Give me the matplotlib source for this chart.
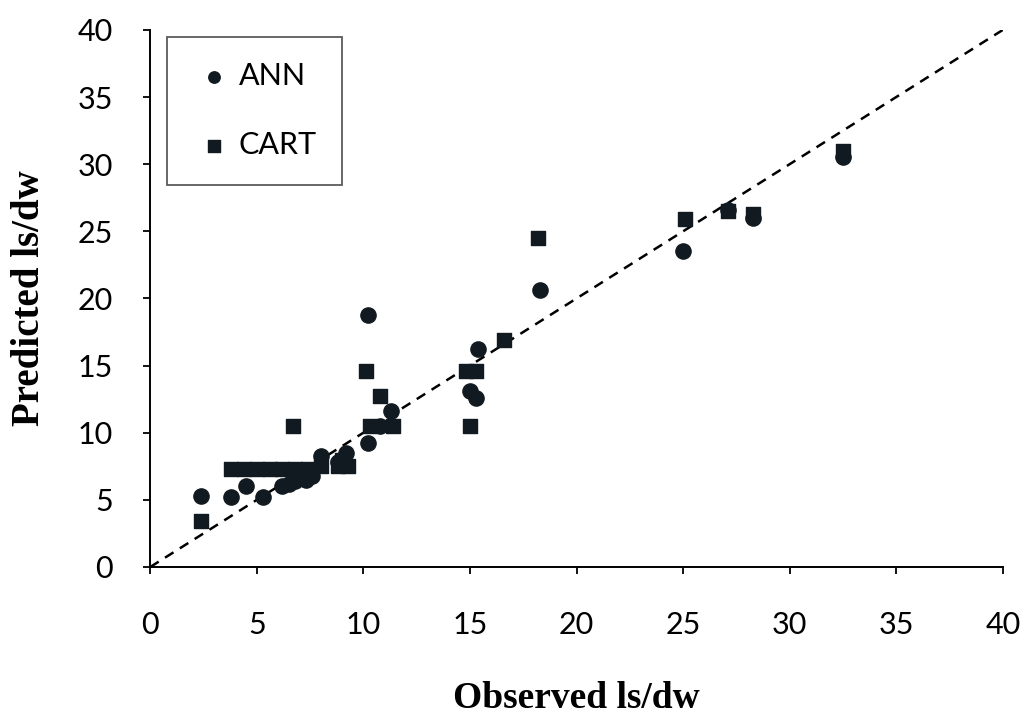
import numpy as np
import matplotlib.pyplot as plt

# ANN predictions (circles)
ann_obs = [2.4, 3.8, 4.5, 5.3, 6.2, 6.5, 6.8, 7.3, 7.6, 8.0, 8.8, 9.2,
           10.2, 10.2, 10.8, 11.3, 15.4, 15.0, 15.3, 18.3, 25.0, 27.1, 28.3, 32.5]
ann_pred = [5.3, 5.2, 6.0, 5.2, 6.0, 6.2, 6.4, 6.5, 6.8, 8.3, 7.8, 8.5,
            9.2, 18.8, 10.5, 11.6, 16.2, 13.1, 12.6, 20.6, 23.5, 26.6, 26.0, 30.5]

# CART predictions (squares)
cart_obs = [2.4, 3.8, 4.4, 5.0, 5.6, 6.2, 6.8, 7.4, 8.0, 6.7, 8.8, 9.3, 9.0,
            10.1, 10.8, 10.3, 11.4, 14.8, 15.3, 15.0, 16.6, 18.2,
            25.1, 27.1, 28.3, 32.5]
cart_pred = [3.4, 7.3, 7.3, 7.3, 7.3, 7.3, 7.3, 7.3, 7.5, 10.5, 7.5, 7.5, 8.0,
             14.6, 12.7, 10.5, 10.5, 14.6, 14.6, 10.5, 16.9, 24.5,
             25.9, 26.5, 26.3, 31.0]

ticks = [0, 5, 10, 15, 20, 25, 30, 35, 40]

fig = plt.figure(figsize=(10.36, 7.2), dpi=100)
ax = fig.add_axes([0.145, 0.2125, 0.823, 0.746])

ax.plot([0, 40], [0, 40], color='black', linestyle=(0, (4, 3)), linewidth=1.8, zorder=1)
ax.scatter(ann_obs, ann_pred, marker='o', s=120, color='#111a20', label='ANN', zorder=3)
ax.scatter(cart_obs, cart_pred, marker='s', s=115, color='#111a20', label='CART', zorder=2)

ax.set_xlim(0, 40)
ax.set_ylim(0, 40)
ax.set_xticks(ticks)
ax.set_yticks(ticks)
for sp in ['top', 'right']:
    ax.spines[sp].set_visible(False)
for sp in ['left', 'bottom']:
    ax.spines[sp].set_linewidth(1.4)
ax.tick_params(direction='out', length=5, width=1.3, labelsize=22)
ax.tick_params(axis='y', pad=22)
ax.tick_params(axis='x', pad=27)
for lab in ax.get_xticklabels() + ax.get_yticklabels():
    lab.set_family('Lato')

ax.set_xlabel('Observed ls/dw', family='Liberation Serif', fontweight='bold', fontsize=27)
ax.set_ylabel('Predicted ls/dw', family='Liberation Serif', fontweight='bold', fontsize=28)
ax.xaxis.set_label_coords(0.5, -0.212)
ax.yaxis.set_label_coords(-0.12, 0.5)

leg = ax.legend(loc='upper left', bbox_to_anchor=(0.02, 0.987), borderaxespad=0,
                markerscale=0.75, labelspacing=1.35, handletextpad=0.1, borderpad=0.83,
                handlelength=1.4, fancybox=False, edgecolor='#333333',
                prop={'family': 'Lato', 'size': 22})
leg.get_frame().set_linewidth(1.3)

fig.savefig('out.png', dpi=100)
